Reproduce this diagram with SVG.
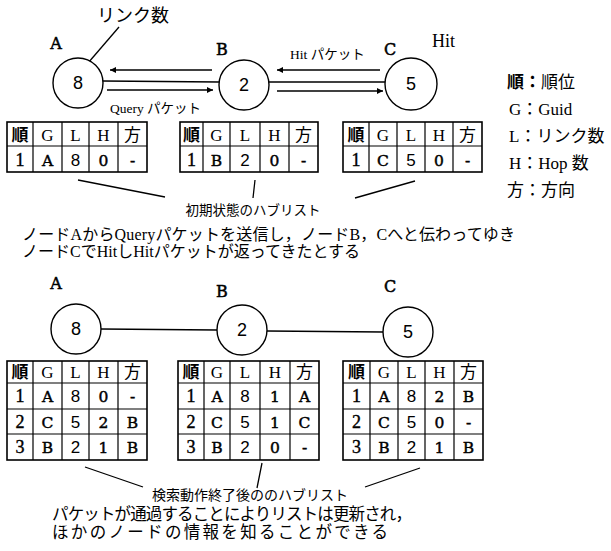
<svg xmlns="http://www.w3.org/2000/svg" width="611" height="551" viewBox="0 0 611 551">
<style>
.bg{fill:#fff}
.ln{stroke:#000;stroke-width:1.3;fill:none}
.nd circle{fill:#fff;stroke:#000;stroke-width:1.4}
.num{font-family:"Liberation Sans",sans-serif;font-size:18px;text-anchor:middle}
.lab{font-family:"DejaVu Serif",serif;font-size:16px;text-anchor:middle;stroke:#000;stroke-width:0.5}
.jp{font-family:"Liberation Serif","Noto Sans CJK JP",serif}
.tb path{stroke:#000;stroke-width:1.2;fill:none}
.tb rect{stroke:#000;stroke-width:1.6;fill:#fff}
.tb text{text-anchor:middle;font-size:17px}
.hc{font-family:"Noto Sans CJK JP",sans-serif;font-size:16px}
.hb{font-family:"Noto Sans CJK JP",sans-serif;font-size:16px;font-weight:bold}
.hl{font-family:"Liberation Serif",serif;font-size:18px}
.tb .r{font-family:"Liberation Serif",serif;font-size:18px;stroke:#000;stroke-width:0.4}
.tb .g{font-family:"DejaVu Serif",serif;font-size:15.5px;stroke:#000;stroke-width:0.45}
.l{font-family:"Liberation Sans",sans-serif}
.leg{font-family:"Liberation Serif","Noto Sans CJK JP",serif;font-size:17px}
</style>
<defs>
<marker id="ah" viewBox="0 0 10 10" refX="10" refY="5" markerUnits="userSpaceOnUse" markerWidth="10" markerHeight="6" orient="auto"><path d="M0,0 L10,5 L0,10 z" fill="#000"/></marker>
</defs>
<rect class="bg" x="0" y="0" width="611" height="551"/>

<g id="connectors">
<path class="ln" d="M103,81 L219,82 M269,82 L385,82"/>
<path class="ln" d="M212,70 L110,70" marker-end="url(#ah)"/>
<path class="ln" d="M107,90 L213,90" marker-end="url(#ah)"/>
<path class="ln" d="M380,70 L277,70" marker-end="url(#ah)"/>
<path class="ln" d="M277,91 L383,91" marker-end="url(#ah)"/>
<path class="ln" d="M101,329 L217,330 M267,331 L383,332"/>
</g>

<g id="annotations">
<path class="ln" d="M82,70 L119,27"/>
<path class="ln" d="M78,180 L165,197 M255,180 L253,198 M415,181 L355,198"/>
<path class="ln" d="M85,467 L143,487 M262,463 L257,488 M420,468 L365,487"/>
</g>

<text class="jp" x="97" y="22" font-size="18">リンク数</text>
<text class="jp" x="432" y="47" font-size="18">Hit</text>
<text class="jp" x="110" y="113" font-size="13.5">Query パケット</text>
<text class="jp" x="290" y="59" font-size="13.5">Hit パケット</text>

<g id="nodeA1" class="nd"><text class="lab" x="56" y="49">A</text><circle cx="78" cy="83" r="25"/><text class="num" x="78" y="89">8</text></g>
<g id="nodeB1" class="nd"><text class="lab" x="222" y="55">B</text><circle cx="244" cy="85" r="25"/><text class="num" x="244" y="91">2</text></g>
<g id="nodeC1" class="nd"><text class="lab" x="390" y="55">C</text><circle cx="411" cy="84" r="26"/><text class="num" x="411" y="90">5</text></g>

<g id="legend" class="leg">
<text x="507" y="88" font-weight="bold">順：<tspan font-weight="normal">順位</tspan></text>
<text x="509" y="115">G：Guid</text>
<text x="509" y="142">L：リンク数</text>
<text x="509" y="169">H：Hop 数</text>
<text x="507" y="196">方：方向</text>
</g>

<g id="table1A" class="tb">
<rect x="7" y="122" width="140" height="50"/>
<path d="M33,122V172M62,122V172M89,122V172M118,122V172M7,146H147"/>
<text class="hb" x="20" y="141">順</text><text class="hl" x="47.5" y="141">G</text><text class="hl" x="75.5" y="141">L</text><text class="hl" x="103.5" y="141">H</text><text class="hc" x="132.5" y="141">方</text>
<text class="r" x="20" y="166">1</text><text class="g" x="47.5" y="166">A</text><text class="l" x="75.5" y="166">8</text><text class="g" x="103.5" y="166">0</text><text class="g" x="132.5" y="166">-</text>
</g>
<g id="table1B" class="tb">
<rect x="180" y="122" width="138" height="50"/>
<path d="M203,122V172M230,122V172M260,122V172M289,122V172M180,146H318"/>
<text class="hb" x="191.5" y="141">順</text><text class="hl" x="216.5" y="141">G</text><text class="hl" x="245" y="141">L</text><text class="hl" x="274.5" y="141">H</text><text class="hc" x="303.5" y="141">方</text>
<text class="r" x="191.5" y="166">1</text><text class="g" x="216.5" y="166">B</text><text class="l" x="245" y="166">2</text><text class="g" x="274.5" y="166">0</text><text class="g" x="303.5" y="166">-</text>
</g>
<g id="table1C" class="tb">
<rect x="343" y="122" width="139" height="50"/>
<path d="M369,122V172M397,122V172M425,122V172M453,122V172M343,146H482"/>
<text class="hb" x="356" y="141">順</text><text class="hl" x="383" y="141">G</text><text class="hl" x="411" y="141">L</text><text class="hl" x="439" y="141">H</text><text class="hc" x="467.5" y="141">方</text>
<text class="r" x="356" y="166">1</text><text class="g" x="383" y="166">C</text><text class="l" x="411" y="166">5</text><text class="g" x="439" y="166">0</text><text class="g" x="467.5" y="166">-</text>
</g>

<text class="jp" x="253" y="215" font-size="13.5" text-anchor="middle">初期状態のハブリスト</text>
<text class="jp" x="22" y="240" font-size="16" textLength="493" lengthAdjust="spacing">ノードAからQueryパケットを送信し，ノードB，Cへと伝わってゆき</text>
<text class="jp" x="22" y="257" font-size="16" textLength="338" lengthAdjust="spacing">ノードCでHitしHitパケットが返ってきたとする</text>

<g id="nodeA2" class="nd"><text class="lab" x="56" y="289">A</text><circle cx="76" cy="329" r="25"/><text class="num" x="76" y="335">8</text></g>
<g id="nodeB2" class="nd"><text class="lab" x="222" y="297">B</text><circle cx="242" cy="330" r="25"/><text class="num" x="242" y="336">2</text></g>
<g id="nodeC2" class="nd"><text class="lab" x="390" y="292">C</text><circle cx="408" cy="332" r="25"/><text class="num" x="408" y="338">5</text></g>

<g id="table2A" class="tb">
<rect x="7" y="361" width="140" height="99"/>
<path d="M33,361V460M62,361V460M89,361V460M118,361V460M7,383H147M7,409H147M7,434H147"/>
<text class="hb" x="20" y="378">順</text><text class="hl" x="47.5" y="378">G</text><text class="hl" x="75.5" y="378">L</text><text class="hl" x="103.5" y="378">H</text><text class="hc" x="132.5" y="378">方</text>
<text class="r" x="20" y="402">1</text><text class="g" x="47.5" y="402">A</text><text class="l" x="75.5" y="402">8</text><text class="g" x="103.5" y="402">0</text><text class="g" x="132.5" y="402">-</text>
<text class="r" x="20" y="428">2</text><text class="g" x="47.5" y="428">C</text><text class="l" x="75.5" y="428">5</text><text class="g" x="103.5" y="428">2</text><text class="g" x="132.5" y="428">B</text>
<text class="r" x="20" y="453">3</text><text class="g" x="47.5" y="453">B</text><text class="l" x="75.5" y="453">2</text><text class="g" x="103.5" y="453">1</text><text class="g" x="132.5" y="453">B</text>
</g>
<g id="table2B" class="tb">
<rect x="178" y="361" width="141" height="99"/>
<path d="M204,361V460M230,361V460M260,361V460M290,361V460M178,383H319M178,409H319M178,434H319"/>
<text class="hb" x="191" y="378">順</text><text class="hl" x="217" y="378">G</text><text class="hl" x="245" y="378">L</text><text class="hl" x="275" y="378">H</text><text class="hc" x="304.5" y="378">方</text>
<text class="r" x="191" y="402">1</text><text class="g" x="217" y="402">A</text><text class="l" x="245" y="402">8</text><text class="g" x="275" y="402">1</text><text class="g" x="304.5" y="402">A</text>
<text class="r" x="191" y="428">2</text><text class="g" x="217" y="428">C</text><text class="l" x="245" y="428">5</text><text class="g" x="275" y="428">1</text><text class="g" x="304.5" y="428">C</text>
<text class="r" x="191" y="453">3</text><text class="g" x="217" y="453">B</text><text class="l" x="245" y="453">2</text><text class="g" x="275" y="453">0</text><text class="g" x="304.5" y="453">-</text>
</g>
<g id="table2C" class="tb">
<rect x="343" y="361" width="140" height="99"/>
<path d="M370,361V460M398,361V460M425,361V460M454,361V460M343,383H483M343,409H483M343,434H483"/>
<text class="hb" x="356.5" y="378">順</text><text class="hl" x="384" y="378">G</text><text class="hl" x="411.5" y="378">L</text><text class="hl" x="439.5" y="378">H</text><text class="hc" x="468.5" y="378">方</text>
<text class="r" x="356.5" y="402">1</text><text class="g" x="384" y="402">A</text><text class="l" x="411.5" y="402">8</text><text class="g" x="439.5" y="402">2</text><text class="g" x="468.5" y="402">B</text>
<text class="r" x="356.5" y="428">2</text><text class="g" x="384" y="428">C</text><text class="l" x="411.5" y="428">5</text><text class="g" x="439.5" y="428">0</text><text class="g" x="468.5" y="428">-</text>
<text class="r" x="356.5" y="453">3</text><text class="g" x="384" y="453">B</text><text class="l" x="411.5" y="453">2</text><text class="g" x="439.5" y="453">1</text><text class="g" x="468.5" y="453">B</text>
</g>

<text class="jp" x="250" y="500" font-size="14" text-anchor="middle">検索動作終了後ののハブリスト</text>
<text class="jp" x="52" y="520" font-size="16.5" textLength="360" lengthAdjust="spacing">パケットが通過することによりリストは更新され，</text>
<text class="jp" x="52" y="538" font-size="16.5" textLength="336" lengthAdjust="spacing">ほかのノードの情報を知ることができる</text>
</svg>
